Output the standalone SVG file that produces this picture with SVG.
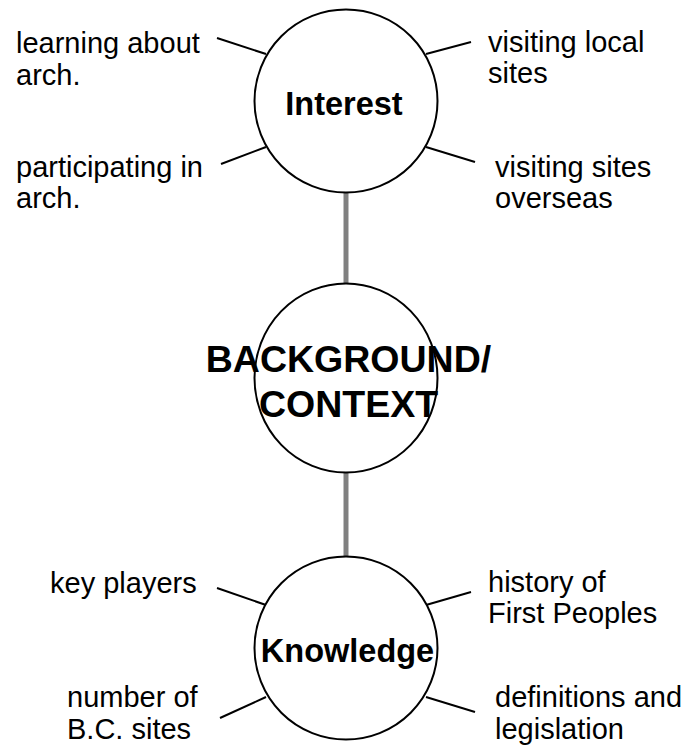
<svg xmlns="http://www.w3.org/2000/svg" width="684" height="747" viewBox="0 0 684 747">
<style>
.node{fill:#fff;stroke:#000;stroke-width:2}
.spoke{stroke:#000;stroke-width:2;fill:none}
.link{stroke:#808080;stroke-width:5;fill:none}
.lbl{font-family:"Liberation Sans",Arial,sans-serif;font-size:29px;fill:#000}
.title{font-family:"Liberation Sans",Arial,sans-serif;font-weight:bold;fill:#000;text-anchor:middle}
</style>
<rect width="684" height="747" fill="#fff"/>
<g id="connectors">
<line class="link" x1="346" y1="192" x2="346" y2="284"/>
<line class="link" x1="346" y1="472" x2="346" y2="558"/>
<line class="spoke" x1="217" y1="38" x2="266" y2="54"/>
<line class="spoke" x1="426" y1="54" x2="471" y2="42"/>
<line class="spoke" x1="221" y1="164" x2="266" y2="147"/>
<line class="spoke" x1="426" y1="147" x2="475" y2="162"/>
<line class="spoke" x1="217" y1="588" x2="266" y2="605"/>
<line class="spoke" x1="426" y1="605" x2="471" y2="592"/>
<line class="spoke" x1="220" y1="718" x2="266" y2="697"/>
<line class="spoke" x1="426" y1="697" x2="475" y2="712"/>
</g>
<g id="interest">
<circle class="node" cx="346" cy="101" r="91.5"/>
<text class="title" x="344" y="115" font-size="32.5">Interest</text>
</g>
<g id="background">
<ellipse class="node" cx="346" cy="378" rx="91.5" ry="94.5"/>
<text class="title" x="348.5" y="372" font-size="37.5">BACKGROUND/</text>
<text class="title" x="348.5" y="417" font-size="37.5">CONTEXT</text>
</g>
<g id="knowledge">
<circle class="node" cx="346" cy="648" r="91.5"/>
<text class="title" x="347.5" y="662" font-size="32.5">Knowledge</text>
</g>
<g id="label-learning"><text class="lbl" x="16" y="53">learning about</text><text class="lbl" x="16" y="85">arch.</text></g>
<g id="label-participating"><text class="lbl" x="16" y="177">participating in</text><text class="lbl" x="16" y="208">arch.</text></g>
<g id="label-local"><text class="lbl" x="488" y="52">visiting local</text><text class="lbl" x="488" y="83">sites</text></g>
<g id="label-overseas"><text class="lbl" x="495" y="177">visiting sites</text><text class="lbl" x="495" y="208">overseas</text></g>
<g id="label-players"><text class="lbl" x="50" y="593">key players</text></g>
<g id="label-number"><text class="lbl" x="67" y="707">number of</text><text class="lbl" x="67" y="739">B.C. sites</text></g>
<g id="label-history"><text class="lbl" x="488" y="592">history of</text><text class="lbl" x="488" y="623">First Peoples</text></g>
<g id="label-definitions"><text class="lbl" x="495" y="707">definitions and</text><text class="lbl" x="495" y="739">legislation</text></g>
</svg>
